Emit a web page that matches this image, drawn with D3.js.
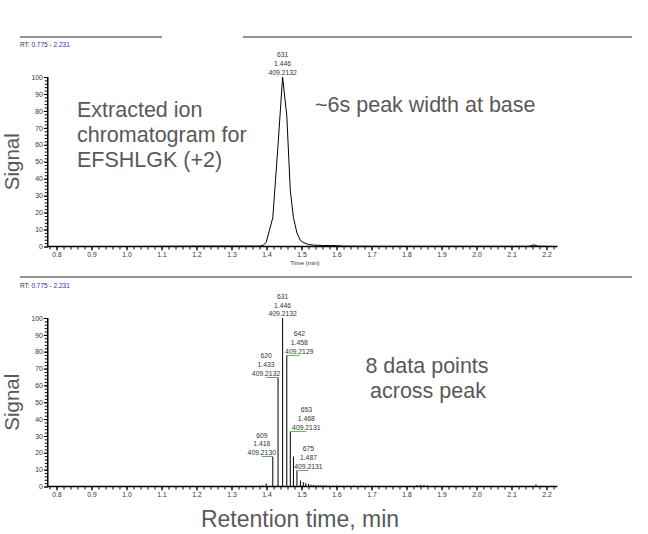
<!DOCTYPE html>
<html><head><meta charset="utf-8">
<script src="https://cdn.jsdelivr.net/npm/d3@7/dist/d3.min.js"></script>
<style>
html,body{margin:0;padding:0;background:#fff;}
svg{display:block;font-family:"Liberation Sans",Arial,sans-serif;}
</style></head>
<body><svg id="c" width="648" height="534"></svg>
<script>
// ---------- DATA ----------
const rtRange = [0.775, 2.231];
const xTickLabels = ["0.8","0.9","1.0","1.1","1.2","1.3","1.4","1.5","1.6","1.7","1.8","1.9","2.0","2.1","2.2"];
const yTickLabels = ["0","10","20","30","40","50","60","70","80","90","100"];

// Extracted ion chromatogram (top panel): retention time (min) and relative signal (%)
const eicTime   = [0.775, 1.000, 1.220, 1.380, 1.390, 1.399, 1.418, 1.433, 1.446, 1.458, 1.468, 1.477, 1.487, 1.497, 1.507, 1.520, 1.535, 1.560, 1.600, 1.620, 1.700, 2.150, 2.165, 2.175, 2.231];
const eicSignal = [0.0,   0.0,   0.2,   0.2,   0.6,   2.4,   17.0,  60.0,  100.0, 77.0,  33.0,  17.0,  8.0,   3.5,   2.2,   1.2,   0.8,   0.6,   0.5,   0.2,   0.1,   0.1,   1.0,   0.2,   0.0];

// MS1 scans (bottom panel): retention time (min) and relative signal (%)
const scanTime   = [1.220, 1.380, 1.389, 1.399, 1.418, 1.433, 1.446, 1.458, 1.468, 1.477, 1.487, 1.497, 1.505, 1.512, 1.520, 1.527, 1.534, 1.541, 1.548, 1.556, 1.563, 1.570, 1.580, 1.590, 1.600, 1.610, 1.620, 1.630, 1.640, 1.650, 1.660, 1.670, 1.680, 1.690, 1.700, 1.710, 1.720, 1.830, 1.840, 1.850, 1.860, 2.170];
const scanSignal = [0.4,   0.5,   0.6,   1.8,   17.8,  64.7,  100.0, 77.8,  32.7,  17.8,  9.5,   3.5,   2.6,   2.0,   1.5,   1.1,   0.9,   0.8,   0.7,   0.7,   0.6,   0.6,   0.5,   0.5,   0.6,   0.5,   0.4,   0.5,   0.4,   0.5,   0.4,   0.5,   0.4,   0.4,   0.5,   0.4,   0.4,   0.8,   1.0,   0.9,   0.7,   1.2];

// Labelled scans
const labelScan = ["609", "620", "631", "642", "653", "675"];
const labelRT   = [1.418, 1.433, 1.446, 1.458, 1.468, 1.487];
const labelMZ   = ["409.2130", "409.2132", "409.2132", "409.2129", "409.2131", "409.2131"];
const labelSignal = [17.8, 64.7, 100.0, 77.8, 32.7, 9.5];

// ---------- LAYOUT ----------
const svg = d3.select("#c");
const FONT = '"Liberation Sans",Arial,sans-serif';
const TICKFS = 6.8;
const x = d3.scaleLinear().domain(rtRange).range([47.75, 557.35]);
const panels = [
  {y0: 246.5, y1: 77, header: 37, split: true,  rtY: 47},
  {y0: 486.5, y1: 318, header: 277, split: false, rtY: 288}
];
const labelDx = [-11, -12, 0, 12.5, 16, 11.5];  // label horizontal offsets (px)

panels.forEach((p, pi) => {
  const y = d3.scaleLinear().domain([0, 100]).range([p.y0, p.y1]);
  p.y = y;
  // header rule
  const hdr = svg.append("g").attr("stroke", "#6e6e6e").attr("stroke-width", 1.6);
  if (p.split) {
    hdr.append("line").attr("x1", 20).attr("x2", 162).attr("y1", p.header).attr("y2", p.header);
    hdr.append("line").attr("x1", 243).attr("x2", 632).attr("y1", p.header).attr("y2", p.header);
  } else {
    hdr.append("line").attr("x1", 20).attr("x2", 632).attr("y1", p.header).attr("y2", p.header);
  }
  const rt = svg.append("text").attr("x", 20).attr("y", p.rtY).attr("font-size", 6.5).attr("fill", "#333");
  rt.append("tspan").text("RT: ");
  rt.append("tspan").attr("fill", "#2b2bb8").text(d3.format(".3f")(rtRange[0]) + " - " + d3.format(".3f")(rtRange[1]));

  // x axis
  const xMinor = d3.range(0.78, 2.231, 0.02).map(v => +v.toFixed(2));
  const gx = svg.append("g").attr("transform", `translate(0,${p.y0})`);
  gx.call(d3.axisBottom(x).tickValues(xMinor).tickSize(3).tickFormat(""));
  gx.call(g => g.select(".domain").remove());
  const gx2 = svg.append("g").attr("transform", `translate(0,${p.y0})`);
  gx2.call(d3.axisBottom(x).tickValues(xTickLabels.map(Number)).tickSize(4)
      .tickFormat((d, i) => xTickLabels[i]));
  gx2.select(".domain").remove();
  gx2.selectAll("text").attr("font-size", TICKFS).attr("fill", "#333").attr("font-family", FONT).attr("dy", "0.5em");
  svg.selectAll(".tick line").attr("stroke", "#000").attr("stroke-width", 1);
  svg.append("line").attr("x1", x(rtRange[0])).attr("x2", x(rtRange[1]))
    .attr("y1", p.y0).attr("y2", p.y0).attr("stroke", "#000").attr("stroke-width", 1.5);

  // y axis
  const gy = svg.append("g").attr("transform", `translate(${x(rtRange[0])},0)`);
  gy.call(d3.axisLeft(y).tickValues(d3.range(0, 101, 2)).tickSize(3).tickFormat(""));
  gy.select(".domain").remove();
  const gy2 = svg.append("g").attr("transform", `translate(${x(rtRange[0])},0)`);
  gy2.call(d3.axisLeft(y).tickValues(yTickLabels.map(Number)).tickSize(4).tickPadding(1)
      .tickFormat((d, i) => yTickLabels[i]));
  gy2.select(".domain").remove();
  gy2.selectAll("text").attr("font-size", TICKFS).attr("fill", "#333").attr("font-family", FONT);
  svg.selectAll(".tick line").attr("stroke", "#000");
  svg.append("line").attr("x1", x(rtRange[0])).attr("x2", x(rtRange[0]))
    .attr("y1", p.y0).attr("y2", p.y1).attr("stroke", "#000").attr("stroke-width", 1.5);

  // Signal label
  svg.append("text").attr("transform", `translate(19,${(p.y0 + p.y1) / 2}) rotate(-90)`)
    .attr("text-anchor", "middle").attr("font-size", 20.5).attr("fill", "#595959").text("Signal");
});

// Top panel: EIC line
const pt = panels[0];
svg.append("path")
  .datum(eicTime.map((t, i) => [t, eicSignal[i]]))
  .attr("fill", "none").attr("stroke", "#000").attr("stroke-width", 1)
  .attr("d", d3.line().x(d => x(d[0])).y(d => pt.y(d[1])));
// peak label top panel
const iPk = labelScan.indexOf("631");
[labelScan[iPk], d3.format(".3f")(labelRT[iPk]), labelMZ[iPk]].forEach((s, j) => {
  svg.append("text").attr("x", x(labelRT[iPk])).attr("y", pt.y(labelSignal[iPk]) - 2.5 - (2 - j) * 8.8)
    .attr("text-anchor", "middle").attr("font-size", TICKFS).attr("fill", "#333").text(s);
});
svg.append("text").attr("x", 305).attr("y", 265).attr("text-anchor", "middle")
  .attr("font-size", 6.2).attr("fill", "#333").text("Time (min)");

// Bottom panel: stick spectrum
const pb = panels[1];
svg.append("g").selectAll("line").data(scanTime.map((t, i) => [t, scanSignal[i]])).join("line")
  .attr("x1", d => x(d[0])).attr("x2", d => x(d[0]))
  .attr("y1", pb.y(0)).attr("y2", d => pb.y(d[1]))
  .attr("stroke", "#000").attr("stroke-width", 1);

labelScan.forEach((sc, i) => {
  const bx = x(labelRT[i]), by = pb.y(labelSignal[i]);
  const cx = bx + labelDx[i];
  if (labelDx[i] !== 0) {
    svg.append("line").attr("x1", cx).attr("x2", bx).attr("y1", by).attr("y2", by)
      .attr("stroke", "#4cbb4c").attr("stroke-width", 1);
  }
  [sc, d3.format(".3f")(labelRT[i]), labelMZ[i]].forEach((s, j) => {
    svg.append("text").attr("x", cx).attr("y", by - 1.8 - (2 - j) * 8.6)
      .attr("text-anchor", "middle").attr("font-size", TICKFS).attr("fill", "#333").text(s);
  });
});

// Annotations
const ann = svg.append("g").attr("fill", "#595959").attr("font-size", 21.5);
[["Extracted ion", 117], ["chromatogram for", 142], ["EFSHLGK (+2)", 167]].forEach(([t, yy]) =>
  ann.append("text").attr("x", 77).attr("y", yy).text(t));
ann.append("text").attr("x", 315).attr("y", 111.5).text("~6s peak width at base");
ann.append("text").attr("x", 427).attr("y", 373).attr("text-anchor", "middle").text("8 data points");
ann.append("text").attr("x", 428).attr("y", 398).attr("text-anchor", "middle").text("across peak");
ann.append("text").attr("x", 300).attr("y", 527).attr("text-anchor", "middle").attr("font-size", 23).text("Retention time, min");
</script></body></html>
